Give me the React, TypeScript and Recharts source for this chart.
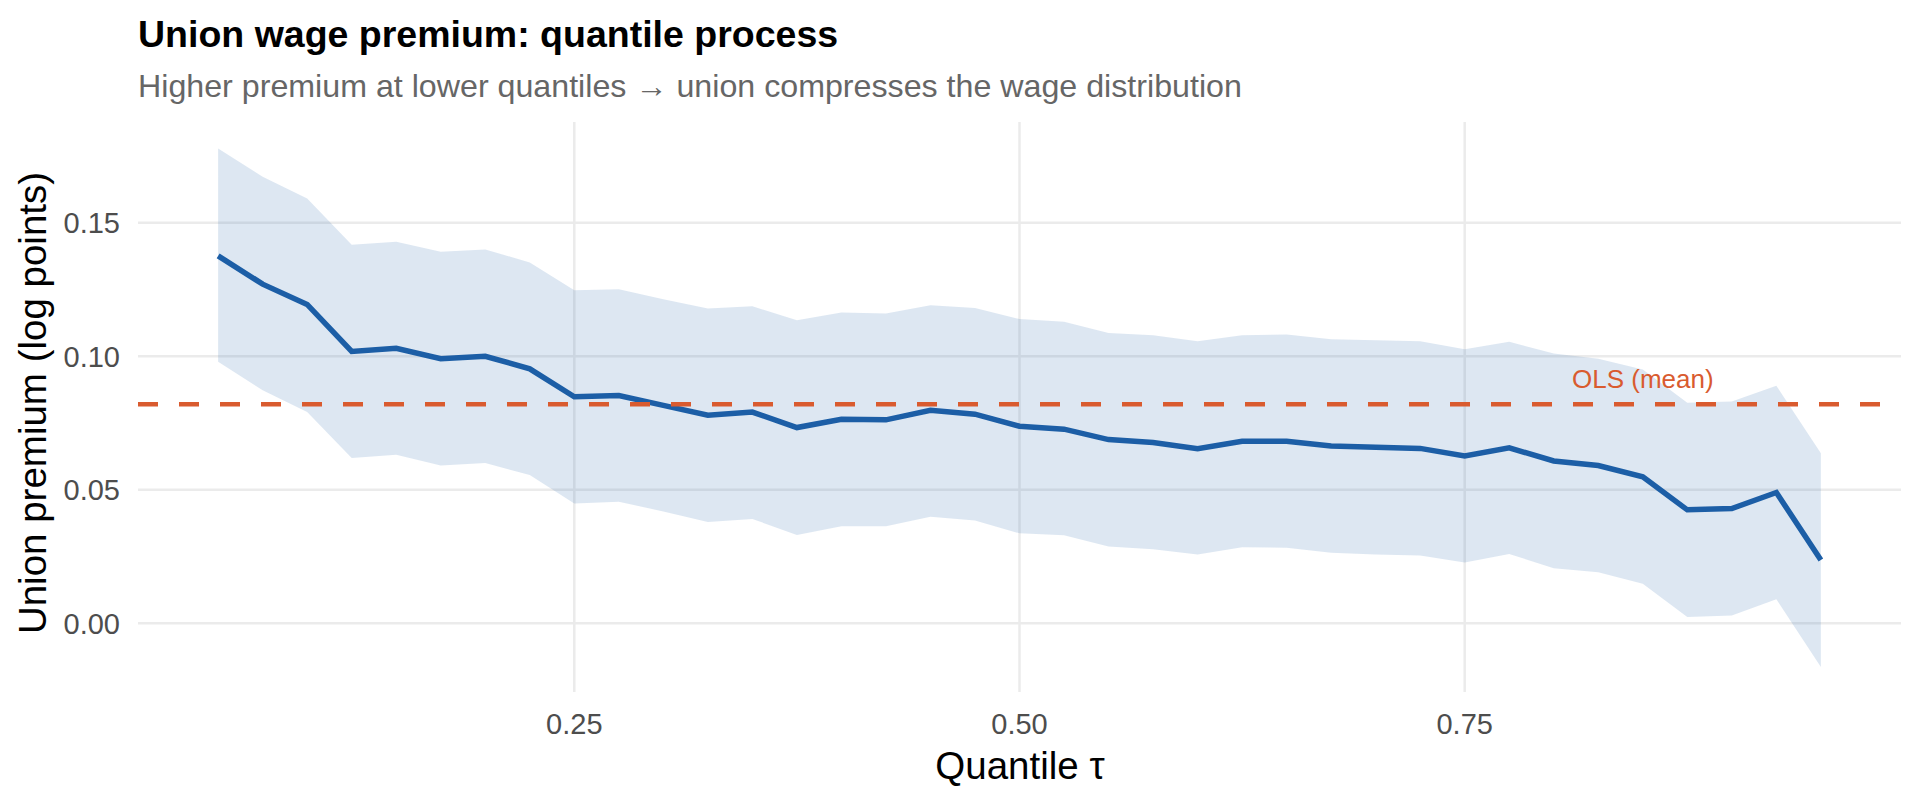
import React from 'react';
import {
  ComposedChart,
  Area,
  Line,
  XAxis,
  YAxis,
  CartesianGrid,
  ReferenceLine,
  ReferenceDot,
} from 'recharts';

// Quantile grid (tau)
const tau = [
  0.05, 0.075, 0.1, 0.125, 0.15, 0.175, 0.2, 0.225, 0.25, 0.275, 0.3, 0.325,
  0.35, 0.375, 0.4, 0.425, 0.45, 0.475, 0.5, 0.525, 0.55, 0.575, 0.6, 0.625,
  0.65, 0.675, 0.7, 0.725, 0.75, 0.775, 0.8, 0.825, 0.85, 0.875, 0.9, 0.925,
  0.95,
];

// Union premium estimate (log points)
const estimate = [
  0.1376, 0.127, 0.1194, 0.1018, 0.103, 0.0991, 0.1, 0.0953, 0.0848, 0.0853,
  0.0816, 0.0779, 0.0791, 0.0733, 0.0764, 0.0762, 0.0798, 0.0783, 0.0738,
  0.0727, 0.0688, 0.0677, 0.0654, 0.0682, 0.0682, 0.0664, 0.0659, 0.0655,
  0.0627, 0.0657, 0.0608, 0.0591, 0.0549, 0.0425, 0.043, 0.049, 0.0237,
];

// Confidence band lower bound
const lower = [
  0.0979, 0.0873, 0.0791, 0.0619, 0.0631, 0.0591, 0.06, 0.0555, 0.0449, 0.0455,
  0.0419, 0.0379, 0.0391, 0.0331, 0.0364, 0.0364, 0.0399, 0.0385, 0.0337,
  0.033, 0.0288, 0.0277, 0.0258, 0.0285, 0.0283, 0.0264, 0.0258, 0.0254,
  0.0228, 0.026, 0.0206, 0.0191, 0.0148, 0.0024, 0.0029, 0.009, -0.0163,
];

// Confidence band upper bound
const upper = [
  0.1778, 0.1672, 0.1591, 0.1417, 0.1429, 0.1391, 0.14, 0.1351, 0.1247, 0.1251,
  0.1213, 0.1179, 0.1187, 0.1135, 0.1164, 0.116, 0.1191, 0.1181, 0.1139,
  0.1129, 0.1087, 0.1079, 0.1056, 0.1079, 0.1081, 0.1064, 0.106, 0.1056,
  0.1026, 0.1054, 0.101, 0.0991, 0.095, 0.0826, 0.0831, 0.089, 0.0637,
];

const olsMean = 0.082;
const olsLabel = 'OLS (mean)';
const olsLabelTau = 0.85;

const xTicks = [0.25, 0.5, 0.75];
const yTicks = [0, 0.05, 0.1, 0.15];
const xDomain: [number, number] = [0.005, 0.995];
const yDomain: [number, number] = [-0.0257, 0.1877];

const title = 'Union wage premium: quantile process';
const subtitle =
  'Higher premium at lower quantiles \u2192 union compresses the wage distribution';
const xTitle = 'Quantile \u03C4';
const yTitle = 'Union premium (log points)';

const data = tau.map((t, i) => ({
  tau: t,
  est: estimate[i],
  band: [lower[i], upper[i]],
}));

const FONT = '"Liberation Sans", Arial, Helvetica, sans-serif';
const BLUE = '#1c5ea6';
const ORANGE = '#d95b2f';

function toMapper(s: any): ((v: number) => number) | null {
  if (typeof s === 'function') return (v: number) => s(v);
  if (s && typeof s.map === 'function') return (v: number) => s.map(v);
  if (s && typeof s.scale === 'function') return (v: number) => s.scale(v);
  return null;
}

const hGen = (props: any) => {
  const m = toMapper(props?.yAxis?.scale);
  if (m) {
    const out = yTicks.map((t) => m(t));
    if (out.every((v) => typeof v === 'number' && isFinite(v))) return out;
  }
  const o = props?.offset;
  if (!o) return [];
  return yTicks.map(
    (t) => o.top + ((yDomain[1] - t) / (yDomain[1] - yDomain[0])) * o.height
  );
};

const vGen = (props: any) => {
  const m = toMapper(props?.xAxis?.scale);
  if (m) {
    const out = xTicks.map((t) => m(t));
    if (out.every((v) => typeof v === 'number' && isFinite(v))) return out;
  }
  const o = props?.offset;
  if (!o) return [];
  return xTicks.map(
    (t) => o.left + ((t - xDomain[0]) / (xDomain[1] - xDomain[0])) * o.width
  );
};

export default function App() {
  return (
    <div
      style={{
        position: 'absolute',
        left: 0,
        top: 0,
        width: 1920,
        height: 806,
        background: '#ffffff',
        fontFamily: FONT,
        overflow: 'hidden',
      }}
    >
      <ComposedChart
        width={1920}
        height={806}
        data={data}
        margin={{ top: 122, right: 19, bottom: 54, left: 78 }}
        style={{ fontFamily: FONT }}
      >
        <CartesianGrid
          stroke="#ebebeb"
          strokeWidth={2.5}
          horizontalCoordinatesGenerator={hGen}
          verticalCoordinatesGenerator={vGen}
        />
        <XAxis
          type="number"
          dataKey="tau"
          domain={xDomain}
          ticks={xTicks}
          interval={0}
          allowDataOverflow
          tickFormatter={(v: number) => v.toFixed(2)}
          axisLine={false}
          tickLine={false}
          tickSize={0}
          tickMargin={21}
          height={60}
          tick={{ fill: '#4d4d4d', fontSize: 29, fontFamily: FONT }}
        />
        <YAxis
          type="number"
          domain={yDomain}
          ticks={yTicks}
          interval={0}
          allowDataOverflow
          tickFormatter={(v: number) => v.toFixed(2)}
          axisLine={false}
          tickLine={false}
          tickSize={0}
          tickMargin={18}
          width={60}
          tick={{ fill: '#4d4d4d', fontSize: 29, fontFamily: FONT }}
        />
        <Area
          type="linear"
          dataKey="band"
          stroke="none"
          fill={BLUE}
          fillOpacity={0.15}
          isAnimationActive={false}
          activeDot={false}
        />
        <Line
          type="linear"
          dataKey="est"
          stroke={BLUE}
          strokeWidth={5.5}
          dot={false}
          activeDot={false}
          isAnimationActive={false}
        />
        <ReferenceLine
          y={olsMean}
          stroke={ORANGE}
          strokeWidth={4.5}
          strokeDasharray="20 21"
        />
        <ReferenceDot
          x={olsLabelTau}
          y={olsMean}
          r={0}
          fill="none"
          stroke="none"
          label={{
            value: olsLabel,
            position: 'top',
            offset: 16,
            fill: ORANGE,
            fontSize: 26,
            fontFamily: FONT,
          }}
        />
      </ComposedChart>

      <div
        style={{
          position: 'absolute',
          left: 138,
          top: 16,
          fontSize: 37.5,
          lineHeight: '37.5px',
          fontWeight: 700,
          color: '#000000',
          whiteSpace: 'nowrap',
        }}
      >
        {title}
      </div>
      <div
        style={{
          position: 'absolute',
          left: 138,
          top: 69.5,
          fontSize: 32.2,
          lineHeight: '32.2px',
          color: '#666666',
          whiteSpace: 'nowrap',
        }}
      >
        {subtitle}
      </div>
      <div
        style={{
          position: 'absolute',
          left: 1020,
          top: 747,
          fontSize: 38.5,
          lineHeight: '38.5px',
          color: '#000000',
          whiteSpace: 'nowrap',
          transform: 'translateX(-50%)',
        }}
      >
        {xTitle}
      </div>
      <div
        style={{
          position: 'absolute',
          left: 33,
          top: 403,
          fontSize: 38.5,
          lineHeight: '38.5px',
          color: '#000000',
          whiteSpace: 'nowrap',
          transform: 'translate(-50%, -50%) rotate(-90deg)',
        }}
      >
        {yTitle}
      </div>
    </div>
  );
}
